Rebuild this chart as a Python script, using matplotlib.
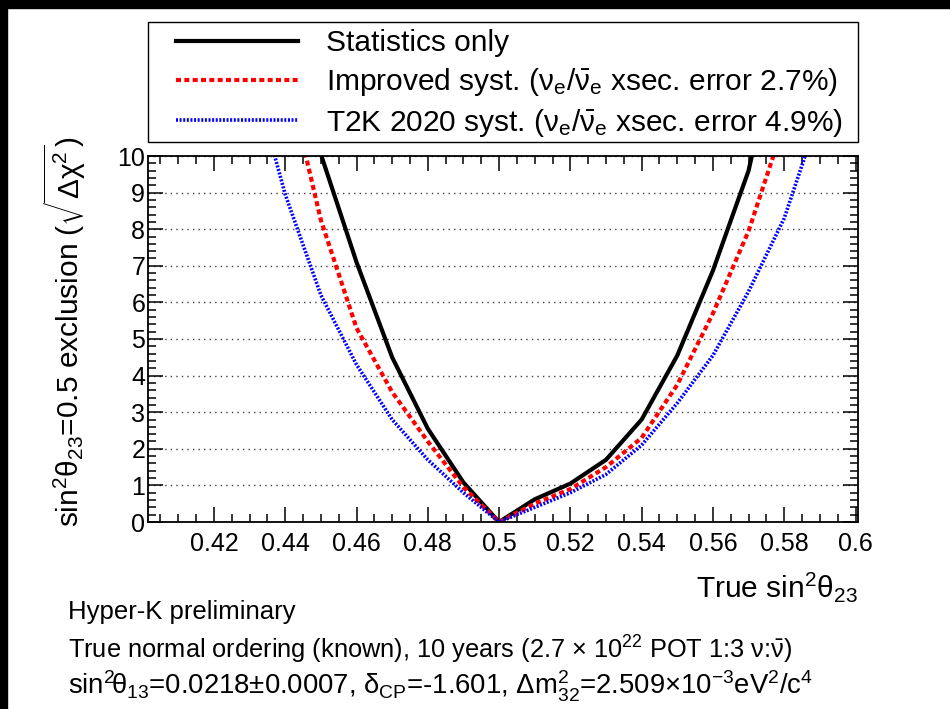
import matplotlib
matplotlib.use("Agg")
import matplotlib.pyplot as plt
from matplotlib.patches import Rectangle
from matplotlib.ticker import MultipleLocator, FuncFormatter

plt.rcParams['font.family'] = ['Liberation Sans', 'DejaVu Sans']
plt.rcParams['mathtext.fontset'] = 'custom'
plt.rcParams['mathtext.rm'] = 'Liberation Sans'
plt.rcParams['mathtext.it'] = 'Liberation Sans:italic'
plt.rcParams['mathtext.default'] = 'regular'

# sqrt(delta chi2) for sin^2 theta23 = 0.5 exclusion
true_s23 = [0.43, 0.44, 0.45, 0.46, 0.47, 0.48, 0.49, 0.50,
            0.51, 0.52, 0.53, 0.54, 0.55, 0.56, 0.57, 0.58, 0.59]
stat_only = [17.5, 13.5, 10.05, 7.1, 4.5, 2.55, 1.08, 0.0,
             0.62, 1.05, 1.7, 2.8, 4.55, 6.87, 9.6, 14.0, 18.0]
improved_syst = [16.0, 12.4, 8.25, 5.3, 3.55, 2.2, 0.95, 0.0,
                 0.5, 0.9, 1.5, 2.3, 3.75, 5.7, 7.95, 10.9, 14.5]
t2k_syst = [12.5, 8.95, 6.2, 4.3, 2.8, 1.7, 0.8, 0.0,
            0.4, 0.8, 1.3, 2.1, 3.25, 4.55, 6.3, 8.3, 11.2]

labels = [
    'Statistics only',
    r'Improved syst. ($\nu_e$/$\bar{\nu}_e$ xsec. error 2.7%)',
    r'T2K 2020 syst. ($\nu_e$/$\bar{\nu}_e$ xsec. error 4.9%)',
]

W, H = 950, 709
fig = plt.figure(figsize=(9.5, 7.09), dpi=100)
fig.patch.set_facecolor('white')

# black strips of the original canvas
fig.patches.append(Rectangle((0, 1 - 8 / H), 1, 8 / H, transform=fig.transFigure,
                             color='black', zorder=0))
fig.patches.append(Rectangle((0, 0), 7 / W, 1, transform=fig.transFigure,
                             color='black', zorder=0))

ax = fig.add_axes([148 / W, 1 - 522 / H, 710 / W, 366 / H])

l1, = ax.plot(true_s23, stat_only, color='black', lw=3, solid_joinstyle='miter')
l2, = ax.plot(true_s23, improved_syst, color='#ff0000', lw=3, dashes=(1.2, 0.8))
l3, = ax.plot(true_s23, t2k_syst, color='#0000ff', lw=2.6, dashes=(0.55, 0.45))

ax.set_xlim(0.4015, 0.6007)
ax.set_ylim(0, 10)

ax.xaxis.set_major_locator(MultipleLocator(0.02))
ax.xaxis.set_minor_locator(MultipleLocator(0.005))
ax.yaxis.set_major_locator(MultipleLocator(1))
ax.yaxis.set_minor_locator(MultipleLocator(0.2))
ax.xaxis.set_major_formatter(FuncFormatter(lambda v, p: f'{v:g}'))
ax.yaxis.set_major_formatter(FuncFormatter(lambda v, p: f'{v:g}'))

ax.tick_params(which='both', direction='in', top=True, right=True, width=1.1,
               labelsize=18)
ax.tick_params(which='major', length=11)
ax.tick_params(which='minor', length=5.5)
ax.tick_params(axis='x', pad=7)
ax.tick_params(axis='y', pad=2)
for s in ax.spines.values():
    s.set_linewidth(1.3)

ax.yaxis.grid(True, which='major', color='0.25', lw=1, linestyle=(0, (1, 3)))
ax.set_axisbelow(True)

# legend box
fig.patches.append(Rectangle((148 / W, 1 - 142 / H), 710 / W, 120 / H,
                             transform=fig.transFigure, fill=False,
                             ec='black', lw=1))
fig.legend([l1, l2, l3], labels, loc='upper left',
           bbox_to_anchor=(176 / W, 1 - 29 / H), frameon=False,
           borderpad=0, borderaxespad=0, handlelength=4.1,
           handletextpad=0.93, labelspacing=0.3, fontsize=21.5)

fig.text(858 / W, 1 - 597 / H, r'True sin$^2\theta_{23}$', fontsize=21.5,
         ha='right', va='baseline')
fig.text(80 / W, 1 - 137 / H,
         r'sin$^2\theta_{23}$=0.5 exclusion ($\sqrt{\Delta\chi^2}$)',
         fontsize=21.5, rotation=90, rotation_mode='anchor',
         ha='right', va='baseline')

fig.text(68 / W, 1 - 619 / H, 'Hyper-K preliminary', fontsize=18.5,
         va='baseline')
fig.text(68 / W, 1 - 659 / H,
         r'True normal ordering (known), 10 years (2.7 $\times$ 10$^{22}$ POT 1:3 $\nu$:$\bar{\nu}$)',
         fontsize=18.3, va='baseline')
fig.text(68 / W, 1 - 694 / H,
         r'sin$^{2}\!\theta_{13}$=0.0218±0.0007, $\delta_{CP}$=-1.601, '
         r'$\Delta m^2_{32}$=2.509×10$^{-3}$eV$^2$/c$^4$',
         fontsize=19.8, va='baseline')

fig.savefig('out.png', dpi=100)
